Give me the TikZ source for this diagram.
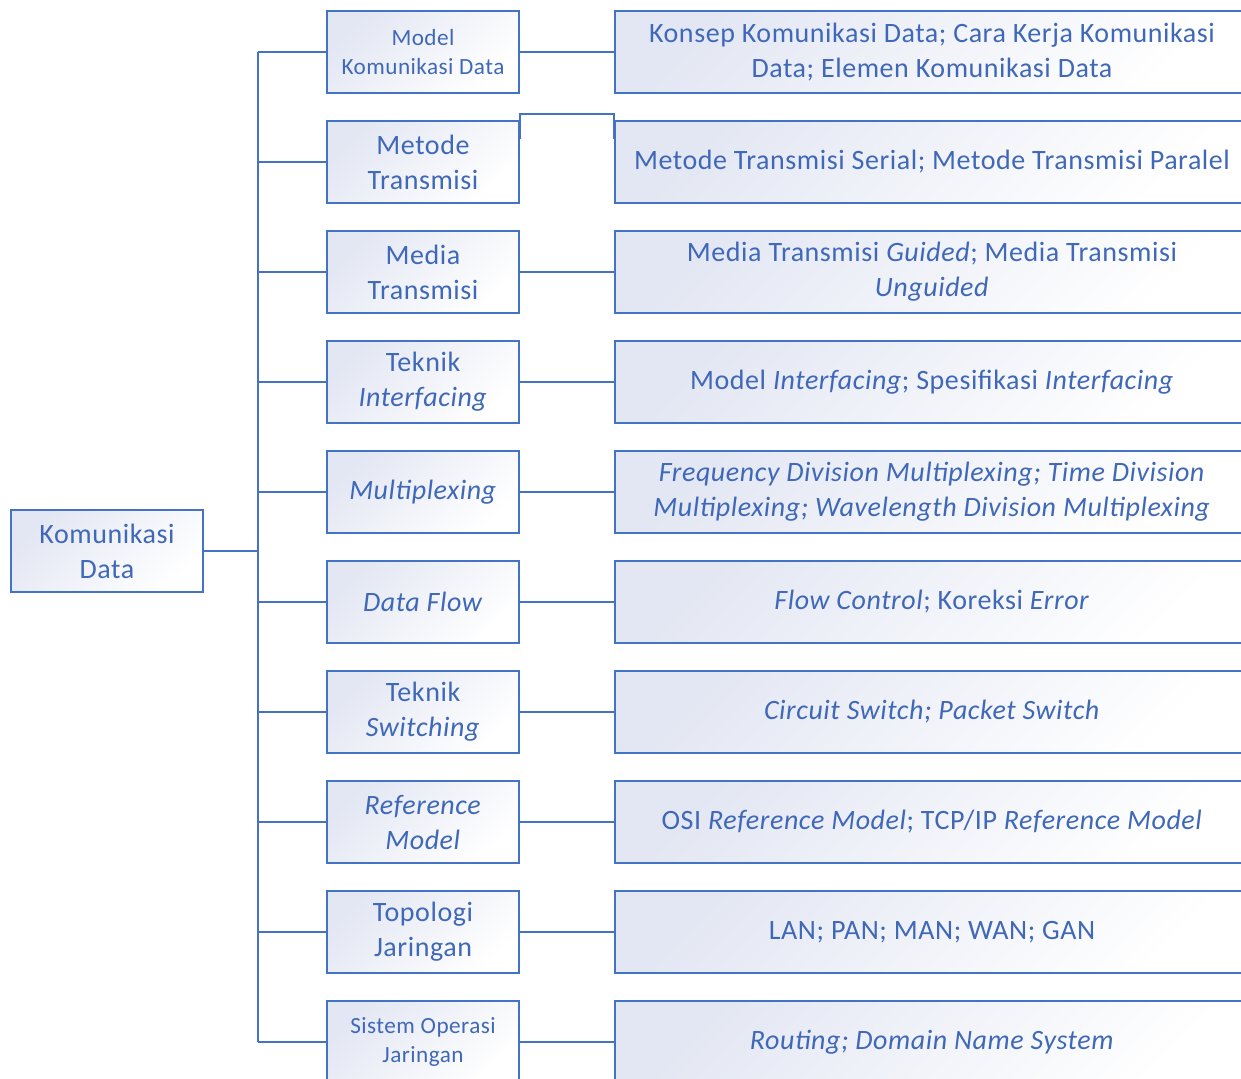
\documentclass[tikz,border=0pt]{standalone}
\usepackage{fontspec}
\setmainfont{Carlito}[LetterSpace=2]
\definecolor{boxblue}{HTML}{4472C4}
\definecolor{textblue}{HTML}{3F68B8}
\definecolor{boxshade}{HTML}{E3E7F3}

\begin{document}
\begin{tikzpicture}[
  x=1pt, y=-1pt,
  font=\fontsize{28}{35}\selectfont,
  every node/.style={align=center, text=textblue},
  box/.style={draw=boxblue, line width=1.8pt, minimum height=82pt, inner sep=0pt,
              top color=boxshade, bottom color=white, shading angle=45},
  topic/.style={box, minimum width=192pt},
  detail/.style={box, minimum width=634pt},
  small/.style={font=\fontsize{23.2}{29}\selectfont},
  link/.style={draw=boxblue, line width=1.8pt}
]
\useasboundingbox (0,0) rectangle (1241,1078);
\clip (0,0) rectangle (1241,1078);

% Nodo principale
\node[box, minimum width=192pt] (root) at (107,551) {Komunikasi\\Data};
\coordinate (trunk) at (258,0);

% ====================== MATERI ======================
\node[topic, small] (m1)  at (423,52)   {Model\\Komunikasi Data};
\node[topic] (m2)  at (423,162)  {Metode\\Transmisi};
\node[topic] (m3)  at (423,272)  {Media\\Transmisi};
\node[topic] (m4)  at (423,382)  {Teknik\\\textit{Interfacing}};
\node[topic] (m5)  at (423,492)  {\textit{Multiplexing}};
\node[topic] (m6)  at (423,602)  {\textit{Data Flow}};
\node[topic] (m7)  at (423,712)  {Teknik\\\textit{Switching}};
\node[topic] (m8)  at (423,822)  {\textit{Reference}\\\textit{Model}};
\node[topic] (m9)  at (423,932)  {Topologi\\Jaringan};
\node[topic, small] (m10) at (423,1042) {Sistem Operasi\\Jaringan};

% ====================== DETTAGLI ======================
\node[detail] (d1)  at (932,52)   {Konsep Komunikasi Data; Cara Kerja Komunikasi\\Data; Elemen Komunikasi Data};
\node[detail] (d2)  at (932,162)  {Metode Transmisi Serial; Metode Transmisi Paralel};
\node[detail] (d3)  at (932,272)  {Media Transmisi \textit{Guided}; Media Transmisi\\\textit{Unguided}};
\node[detail] (d4)  at (932,382)  {Model \textit{Interfacing}; Spesifikasi \textit{Interfacing}};
\node[detail] (d5)  at (932,492)  {\textit{Frequency Division Multiplexing; Time Division}\\\textit{Multiplexing; Wavelength Division Multiplexing}};
\node[detail] (d6)  at (932,602)  {\textit{Flow Control}; Koreksi \textit{Error}};
\node[detail] (d7)  at (932,712)  {\textit{Circuit Switch; Packet Switch}};
\node[detail] (d8)  at (932,822)  {OSI \textit{Reference Model}; TCP/IP \textit{Reference Model}};
\node[detail] (d9)  at (932,932)  {LAN; PAN; MAN; WAN; GAN};
\node[detail] (d10) at (932,1042) {\textit{Routing; Domain Name System}};

% ====================== CONNETTORI ======================
\draw[link] (root.east) -- (root.east -| trunk);
\draw[link] (m1.west -| trunk) -- (m10.west -| trunk);
\foreach \i in {1,...,10}
  \draw[link] (m\i.west) -- (m\i.west -| trunk);
\foreach \i in {1,3,4,5,6,7,8,9,10}
  \draw[link] (m\i.east) -- (d\i.west);
\draw[link] ([yshift=-19pt]m2.north east) |- ([yshift=6pt]d2.north west)
  -- ([yshift=-19pt]d2.north west);

\end{tikzpicture}
\end{document}
